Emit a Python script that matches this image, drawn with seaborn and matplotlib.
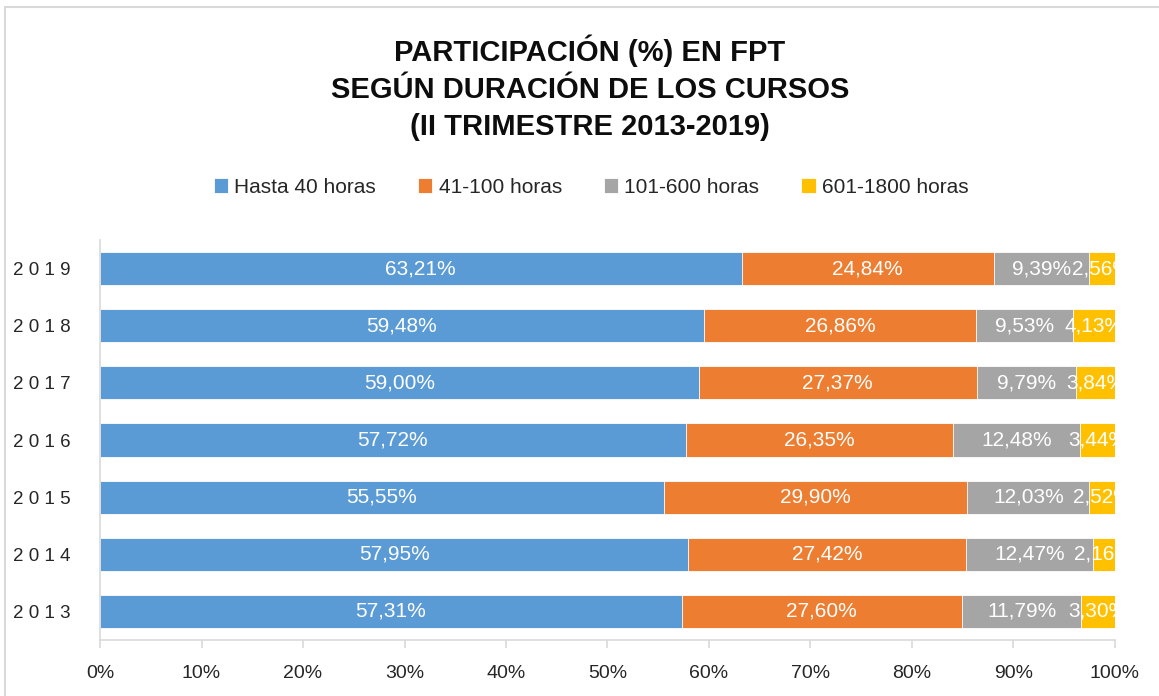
import numpy as np
import matplotlib.pyplot as plt
import seaborn as sns
import pandas as pd
from matplotlib.patches import Rectangle

# Datos (II trimestre)
anios = ['2019', '2018', '2017', '2016', '2015', '2014', '2013']
hasta_40 = [63.21, 59.48, 59.00, 57.72, 55.55, 57.95, 57.31]
h41_100 = [24.84, 26.86, 27.37, 26.35, 29.90, 27.42, 27.60]
h101_600 = [9.39, 9.53, 9.79, 12.48, 12.03, 12.47, 11.79]
h601_1800 = [2.56, 4.13, 3.84, 3.44, 2.52, 2.16, 3.30]

series = ['Hasta 40 horas', '41-100 horas', '101-600 horas', '601-1800 horas']
colores = ['#5B9BD5', '#ED7D31', '#A5A5A5', '#FFC000']

df = pd.DataFrame({'anio': anios, series[0]: hasta_40, series[1]: h41_100,
                   series[2]: h101_600, series[3]: h601_1800})
acum = df[series].cumsum(axis=1)

sns.set_style("white")
plt.rcParams['font.family'] = ['Liberation Sans', 'DejaVu Sans']

fig = plt.figure(figsize=(11.59, 6.96), dpi=100)
ax = fig.add_axes([0.0863, 0.0805, 0.8757, 0.5745])

# barras apiladas: se dibuja de la mayor suma acumulada a la menor
for s, c in reversed(list(zip(series, colores))):
    sns.barplot(x=acum[s], y=df['anio'], color=c, orient='h', ax=ax, saturation=1,
                width=0.58, edgecolor='white', linewidth=0.6, label=s)

# etiquetas de datos
for s in series:
    for i, (v, fin) in enumerate(zip(df[s], acum[s])):
        ax.text(fin - v / 2, i, f'{v:.2f}%'.replace('.', ','), color='white',
                ha='center', va='center', fontsize=15, clip_on=True)

ax.set_xlim(0, 100)
ax.set_ylim(6.5, -0.5)
ax.set_xticks(np.arange(0, 101, 10))
ax.set_xticklabels([f'{x}%' for x in range(0, 101, 10)], fontsize=14)
ax.set_yticks(range(len(anios)))
ax.set_yticklabels([' '.join(a) for a in anios], fontsize=13.5)
ax.set_xlabel('')
ax.set_ylabel('')

for lado in ['top', 'right']:
    ax.spines[lado].set_visible(False)
for lado in ['left', 'bottom']:
    ax.spines[lado].set_color('#D9D9D9')
    ax.spines[lado].set_linewidth(1.2)
ax.tick_params(axis='x', bottom=True, length=6, color='#D9D9D9', width=1.2, pad=12)
ax.tick_params(axis='y', left=False, pad=18)

# leyenda en el orden original
handles, labels = ax.get_legend_handles_labels()
orden = [labels.index(s) for s in series]
fig.legend([handles[k] for k in orden], series, loc='center', ncol=4,
           bbox_to_anchor=(0.51, 0.731), frameon=False, fontsize=15,
           handlelength=0.7, handleheight=0.7, handletextpad=0.3, columnspacing=2.0)
ax.get_legend().remove()

fig.text(0.509, 0.874, 'PARTICIPACIÓN (%) EN FPT\nSEGÚN DURACIÓN DE LOS CURSOS\n(II TRIMESTRE 2013-2019)',
         ha='center', va='center', fontsize=21, fontweight='bold', linespacing=1.42,
         color='#0D0D0D')

# marco del gráfico
fig.patches.append(Rectangle((0.004, -0.1), 1.2, 1.09, transform=fig.transFigure,
                             fill=False, edgecolor='#D9D9D9', linewidth=1.5))

fig.savefig('out.png', dpi=100)
